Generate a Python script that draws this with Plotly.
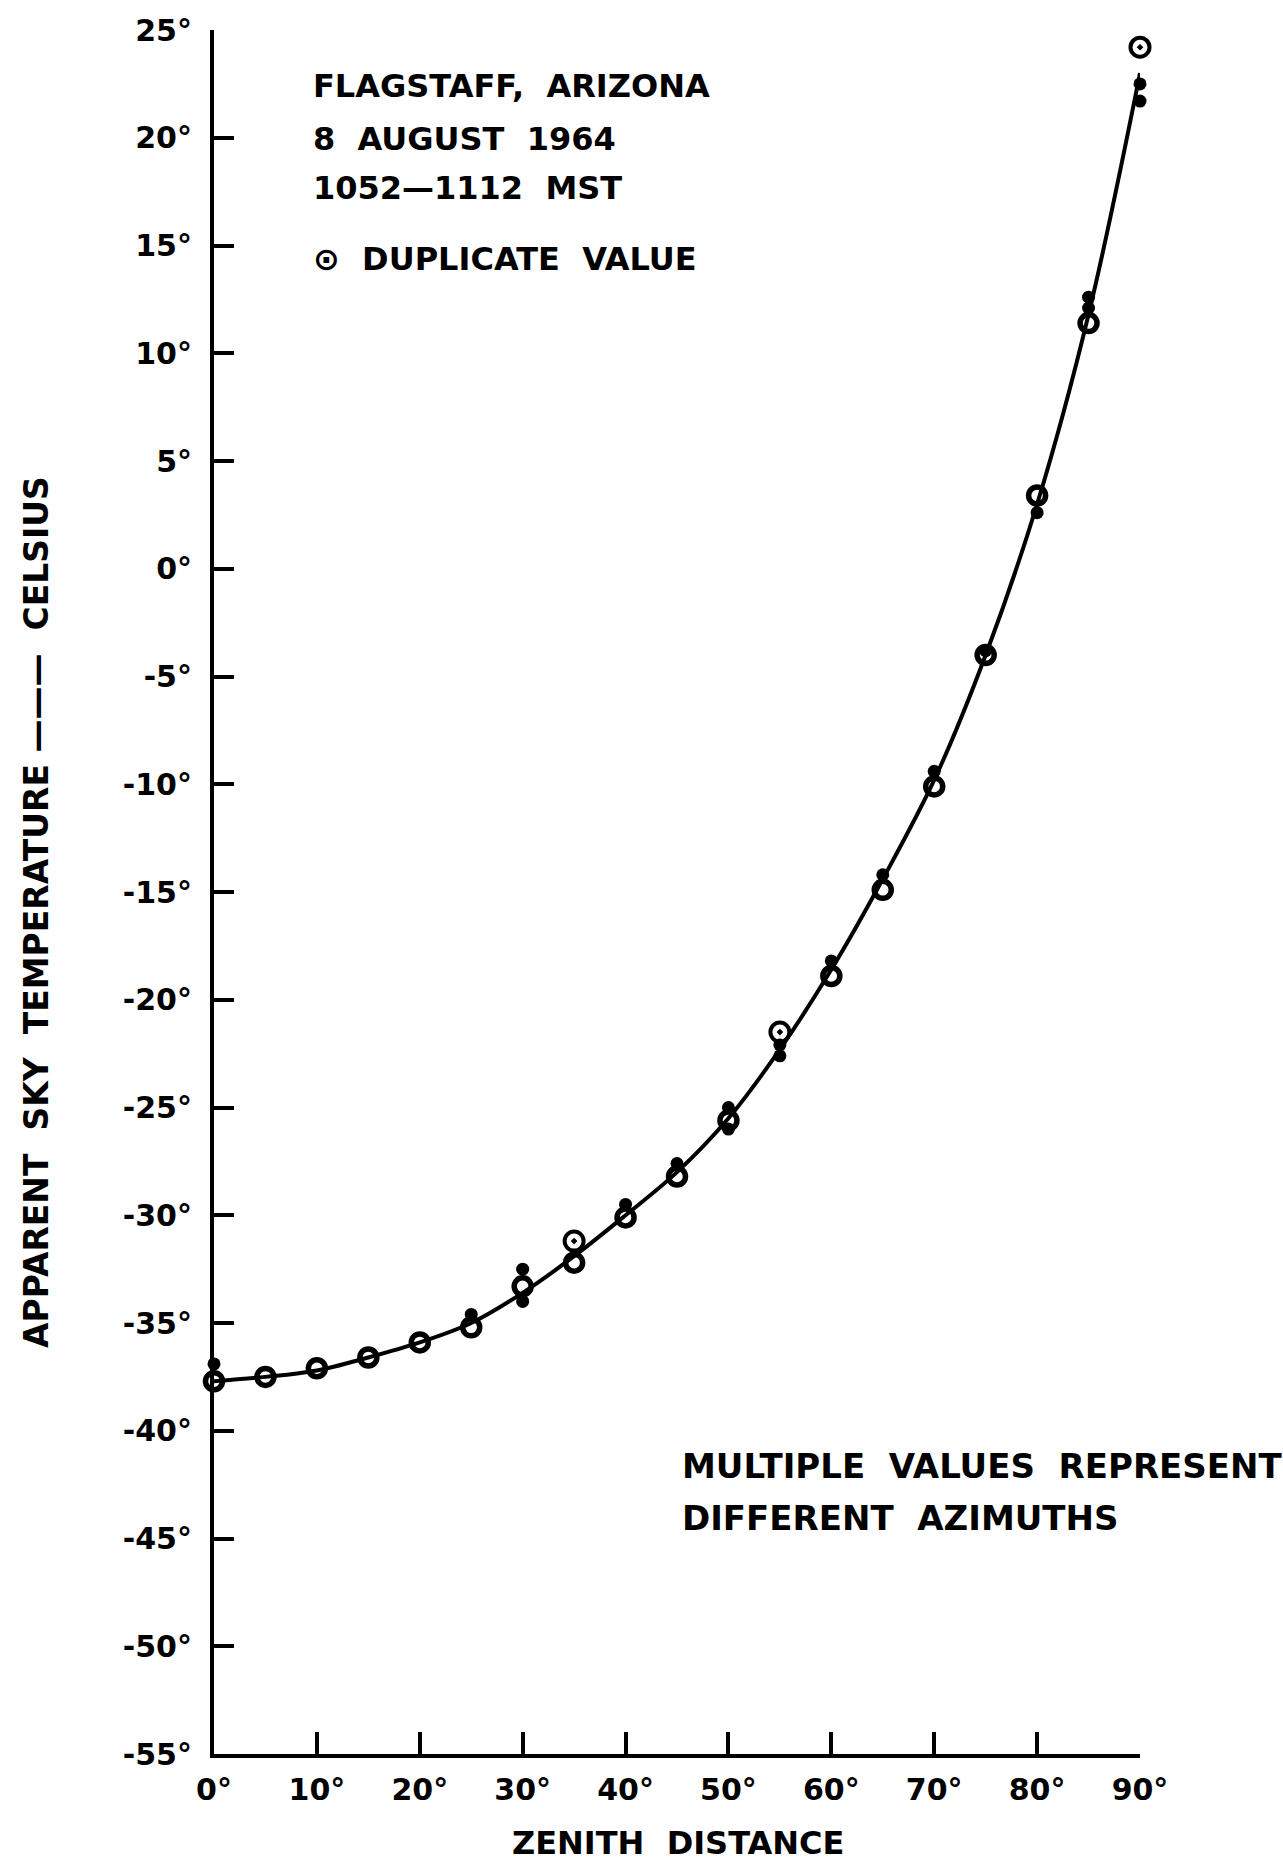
import plotly.graph_objects as go

# ---- data ----
curve_zenith = [0, 5, 10, 15, 20, 25, 30, 35, 40, 45, 50, 55, 60, 65, 70, 75, 80, 85, 90]
curve_temp = [-37.7, -37.5, -37.2, -36.6, -35.9, -35.0, -33.6, -31.9, -30.0, -28.0,
              -25.5, -22.3, -18.6, -14.4, -9.8, -4.0, 3.0, 11.8, 23.0]

ring_zenith = [0, 5, 10, 15, 20, 25, 30, 35, 40, 45, 50, 60, 65, 70, 75, 80, 85]
ring_temp = [-37.7, -37.5, -37.1, -36.6, -35.9, -35.2, -33.3, -32.2, -30.1, -28.2,
             -25.6, -18.9, -14.9, -10.1, -4.0, 3.4, 11.4]

dot_zenith = [0, 25, 30, 30, 40, 45, 50, 50, 55, 55, 60, 65, 70, 75, 80, 85, 85, 90, 90]
dot_temp = [-36.9, -34.6, -32.5, -34.0, -29.5, -27.6, -25.0, -26.0, -22.6, -22.1,
            -18.2, -14.2, -9.4, -3.8, 2.6, 12.6, 12.1, 22.5, 21.7]

dup_zenith = [35, 55, 90]
dup_temp = [-31.2, -21.5, 24.2]

x_ticks = [0, 10, 20, 30, 40, 50, 60, 70, 80, 90]
x_ticklabels = ["0°", "10°", "20°", "30°", "40°", "50°", "60°", "70°", "80°", "90°"]
y_ticks = [25, 20, 15, 10, 5, 0, -5, -10, -15, -20, -25, -30, -35, -40, -45, -50, -55]
y_ticklabels = ["25°", "20°", "15°", "10°", "5°", "0°", "-5°", "-10°", "-15°", "-20°",
                "-25°", "-30°", "-35°", "-40°", "-45°", "-50°", "-55°"]

FONT = "DejaVu Sans"
INK = "#000000"

fig = go.Figure()

fig.add_trace(go.Scatter(
    x=curve_zenith, y=curve_temp, mode="lines",
    line=dict(color=INK, width=4, shape="spline", smoothing=1.0),
    hoverinfo="skip", showlegend=False, cliponaxis=False))

fig.add_trace(go.Scatter(
    x=dot_zenith, y=dot_temp, mode="markers",
    marker=dict(symbol="circle", size=13, color=INK),
    showlegend=False, cliponaxis=False))

fig.add_trace(go.Scatter(
    x=ring_zenith, y=ring_temp, mode="markers",
    marker=dict(symbol="circle-open", size=17, color=INK, line=dict(width=5.5, color=INK)),
    showlegend=False, cliponaxis=False))

fig.add_trace(go.Scatter(
    x=dup_zenith, y=dup_temp, mode="markers",
    marker=dict(symbol="circle-open-dot", size=19, color=INK, line=dict(width=4, color=INK)),
    showlegend=False, cliponaxis=False))

tick_font = dict(family=FONT, size=30, color=INK, weight="bold")
text_font = dict(family=FONT, size=32, color=INK, weight="bold")
text_font_b = dict(family=FONT, size=34, color=INK, weight="bold")

fig.update_xaxes(
    range=[0, 90], tickvals=x_ticks, ticktext=x_ticklabels,
    showline=True, linecolor=INK, linewidth=4, mirror=False,
    ticks="inside", ticklen=22, tickwidth=3.5, tickcolor=INK,
    showgrid=False, zeroline=False, tickfont=tick_font,
    ticklabelstandoff=6, fixedrange=True)

fig.update_yaxes(
    range=[-55, 25], tickvals=y_ticks, ticktext=y_ticklabels,
    showline=True, linecolor=INK, linewidth=4, mirror=False,
    ticks="inside", ticklen=20, tickwidth=3.5, tickcolor=INK,
    showgrid=False, zeroline=False, tickfont=tick_font,
    ticklabelstandoff=12, fixedrange=True)

annotations = [
    dict(text="FLAGSTAFF,  ARIZONA", x=311, y=86, font=text_font),
    dict(text="8  AUGUST  1964", x=311, y=139, font=text_font),
    dict(text="1052—1112  MST", x=311, y=188, font=text_font),
    dict(text="⊙  DUPLICATE  VALUE", x=311, y=259, font=text_font),
    dict(text="MULTIPLE  VALUES  REPRESENT", x=680, y=1466, font=text_font_b),
    dict(text="DIFFERENT  AZIMUTHS", x=680, y=1518, font=text_font_b),
]

W, H = 1283, 1865
L, R, T, B = 214, 143, 30, 111
pw, ph = W - L - R, H - T - B

def px_to_paper(x, y):
    return (x - L) / pw, 1 - (y - T) / ph

anns = []
for a in annotations:
    px, py = px_to_paper(a["x"], a["y"])
    anns.append(dict(text=a["text"], xref="paper", yref="paper", x=px, y=py,
                     xanchor="left", yanchor="middle", showarrow=False, font=a["font"]))

# axis titles
px, py = px_to_paper(678, 1843)
anns.append(dict(text="ZENITH  DISTANCE", xref="paper", yref="paper", x=px, y=py,
                 xanchor="center", yanchor="middle", showarrow=False, font=text_font))
px, py = px_to_paper(36, 912)
anns.append(dict(text="APPARENT  SKY  TEMPERATURE ———  CELSIUS", xref="paper", yref="paper",
                 x=px, y=py, xanchor="center", yanchor="middle", textangle=-90,
                 showarrow=False, font=dict(family=FONT, size=33, color=INK, weight="bold")))

fig.update_layout(
    width=W, height=H,
    margin=dict(l=L, r=R, t=T, b=B),
    paper_bgcolor="white", plot_bgcolor="white",
    annotations=anns, showlegend=False)

fig.write_html("out.html", config={"displayModeBar": False})
